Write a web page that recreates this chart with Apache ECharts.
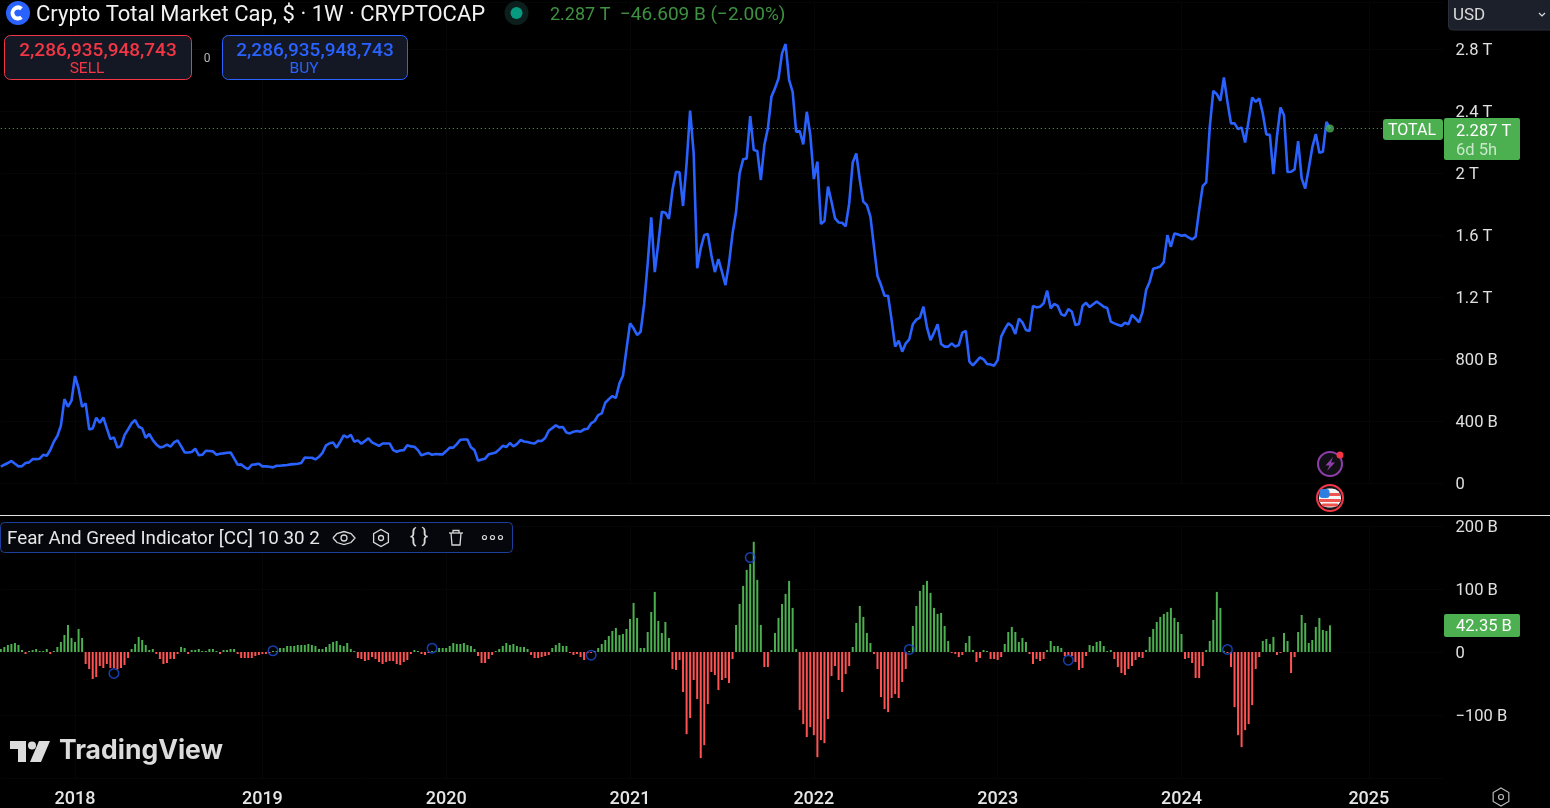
<!DOCTYPE html>
<html><head><meta charset="utf-8"><title>Crypto Total Market Cap</title>
<style>html,body{margin:0;padding:0;background:#000;overflow:hidden}#c{width:1550px;height:808px}</style>
<script src="https://cdn.jsdelivr.net/npm/echarts@6/dist/echarts.min.js"></script></head>
<body><div id="c"></div>
<script>
// Weekly total market cap, billions USD (first week 2017-08-07, last week 2024-10-21)
const totalCap = [
105,118,129,142,124,107,109,129,133,154,154,157,182,176,213,266,303,370,541,492,
531,690,610,492,514,346,352,421,389,423,352,283,294,228,238,309,346,385,406,363,
352,292,316,277,249,230,234,247,234,262,275,238,197,197,200,221,180,182,208,206,
204,182,189,191,195,197,159,118,120,101,90,118,120,124,107,107,105,101,111,111,
114,116,120,122,124,129,165,163,163,152,169,195,243,256,262,228,266,307,294,311,
266,275,253,271,288,262,251,240,255,255,255,212,202,210,212,243,236,234,212,178,
187,193,182,187,185,185,206,228,228,251,279,281,281,230,212,144,152,157,185,191,
197,217,240,232,258,236,251,277,268,264,258,255,273,271,290,337,354,372,359,361,
326,320,331,335,331,346,350,385,400,438,449,518,541,561,548,643,692,864,1030,998,
955,976,1155,1417,1714,1361,1546,1750,1744,1705,1890,2008,2004,1787,2062,2402,2127,1385,1514,1600,
1606,1471,1361,1445,1363,1277,1417,1610,1750,1998,2088,2094,2367,2148,2142,1955,2180,2288,2492,2546,
2610,2772,2832,2600,2524,2266,2271,2185,2395,2245,1961,2073,1671,1690,1912,1815,1707,1681,1679,1656,
1804,2068,2126,1955,1815,1793,1718,1525,1335,1277,1208,1208,1051,880,918,847,901,927,1024,1054,
1067,1137,1004,922,970,1024,897,880,880,901,880,890,970,981,783,759,785,811,798,768,
765,757,793,944,991,1030,1013,961,1060,1036,987,981,1142,1133,1137,1159,1241,1127,1155,1142,
1088,1079,1122,1105,1019,1026,1142,1163,1135,1153,1170,1155,1137,1129,1041,1030,1021,1013,1034,1024,
1084,1062,1036,1105,1245,1299,1383,1389,1397,1425,1599,1524,1610,1604,1595,1599,1584,1571,1589,1760,
1915,1939,2298,2530,2509,2466,2616,2459,2320,2320,2283,2294,2197,2341,2487,2459,2481,2384,2249,2246,
1993,2234,2423,2373,2006,2008,2023,2206,1965,1900,2029,2165,2251,2130,2137,2330,2287
];
// Fear And Greed Indicator, billions
const fearGreed = [
4.8,8,11.1,12.7,14.3,11.1,3.2,-3.2,1.6,3.2,
4.8,1.6,1.6,4.8,-3.2,1.6,8,15.9,27,42.9,
22.3,15.9,36.6,22.3,-19.1,-27,-42.9,-39.8,-22.3,-25.4,
-19.1,-25.4,-25.4,-27.6,-25.4,-20.7,-9.5,4.8,12.7,23.9,
19.1,11.1,3.2,4.8,-3.2,-11.1,-19.1,-17.5,-11.1,-11.1,
-3.2,8,6.4,-3.2,3.2,3.2,4.8,1.6,1.6,4.8,
4.8,1.6,-3.2,3.2,3.2,4.8,4.8,-3.2,-9.5,-9.5,
-9.5,-9.5,-6.4,-4.8,-3.2,-3.2,-1.6,1.6,1.6,6.4,
6.4,9.5,9.5,9.5,11.1,11.1,11.1,12.7,11.1,9.5,
4.8,4.8,8,12.7,15.9,17.5,11.1,9.5,14.3,4.8,
1.6,-9.5,-11.1,-14.3,-12.7,-8,-11.1,-15.9,-19.1,-15.9,
-14.3,-14.3,-19.1,-20.7,-15.9,-12.7,-3.2,3.2,1.6,-3.2,
-4.8,-1.6,1.6,1.6,6.4,6.4,6.4,9.5,14.3,12.7,
12.7,14.3,11.1,9.5,4.8,-6.4,-17.5,-17.5,-11.1,-4.8,
1.6,4.8,9.5,14.3,11.1,12.7,9.5,8,8,4.8,
-4.8,-9.5,-9.5,-8,-6.4,-4.8,6.4,11.1,14.3,9.5,
9.5,-1.6,-4.8,-3.2,-8,-12.7,-1.6,-1.6,1.6,6.4,
12.7,19.1,25.4,33.4,38.2,27,28.6,36.6,52.5,77.9,
54.1,6.4,6.4,31.8,63.6,95.4,49.3,30.2,47.7,22.3,
-27,-28.6,-12.7,-63.6,-130.4,-104.9,-44.5,-74.7,-168.5,-147.9,
-82.7,-31.8,-36.6,-60.4,-44.5,-41.3,-49.3,-11.1,42.9,76.3,
104.9,130.4,139.9,174.9,114.5,42.9,-23.9,-23.9,3.2,30.2,
54.1,76.3,92.2,112.9,70,4.8,-92.2,-114.5,-135,-119.3,
-132,-167,-139.9,-144.7,-106.5,-38.2,-22.3,-44.5,-63.6,-35,
-22.3,8,46.1,73.1,55.7,30.2,14.3,-3.2,-27,-71.6,
-90.6,-95.4,-73.1,-66.8,-73.1,-47.7,-27,1.6,41.3,73.1,
97,106.5,112.9,93.8,70,60.4,62,41.3,17.5,-1.6,
-3.2,-8,-4.8,14.3,25.4,3.2,-15.9,-9.5,3.2,1.6,
-11.1,-11.1,-12.7,-8,12.7,31.8,39.8,31.8,15.9,22.3,
15.9,-3.2,-19.1,-11.1,-14.3,-11.1,3.2,17.5,9.5,9.5,
6.4,-6.4,-4.8,-6.4,-15.9,-28.6,-25.4,-6.4,11.1,9.5,
15.9,17.5,9.5,1.6,3.2,-11.1,-23.9,-33.4,-36.6,-27,
-22.3,-12.7,-8,-9.5,3.2,23.9,36.6,47.7,55.7,60.4,
63.6,70,54.1,47.7,28.6,-11.1,-9.5,-17.5,-41.3,-41.3,
-22.3,3.2,17.5,50.9,95.4,70,1.6,-1.6,-23.9,-87.5,
-132,-151,-124,-114.5,-84.3,-27,-8,17.5,20.7,12.7,
23.9,-4.8,-1.6,30.2,17.5,-33.4,-8,31.8,58.8,46.1,
14.3,19.1,39.8,54.1,35,33.4,42.35
];
// hollow signal circles on the indicator pane: week index, value (billions)
const signalWeeks  = [32, 77, 122, 167, 212, 257, 302, 347];
const signalValues = [-34, 2, 6, -5, 150, 4, -13, 4];
const yearWeeks  = ['2018-01-01','2019-01-07','2020-01-06','2021-01-04','2022-01-03','2023-01-02','2024-01-01','2025-01-06'];
const yearLabels = ['2018','2019','2020','2021','2022','2023','2024','2025'];

const FIRST_WEEK = Date.UTC(2017,7,7), WEEK = 7*864e5, AXIS_WEEKS = 409;
const weeks = [];
for (let i=0;i<AXIS_WEEKS;i++) weeks.push(new Date(FIRST_WEEK+i*WEEK).toISOString().slice(0,10));
const lastIdx = totalCap.length-1;

const FONT='Roboto, sans-serif', GREEN='#4caf50', RED='#ff5252', BLUE='#2962ff', LABEL='#e0e0e0', GRID='#060606';
const isYear = (i,v)=>yearWeeks.includes(v);
const yTotal = v => '{v|'+(v===0?'0':(v>=1000?(v/1000)+' T':v+' B'))+'}';
const yInd = v => '{v|'+(v===0?'0':(v<0?'\u2212'+(-v)+' B':v+' B'))+'}';

const txt=(text,x,y,fill,font,align)=>({type:'text',z:20,silent:true,style:{text,x,y:y+1.5,fill,font,textAlign:align||'left',textVerticalAlign:'middle'}});
const rect=(x,y,width,height,fill,stroke,r,z)=>({type:'rect',z:z||19,silent:true,shape:{x,y,width,height,r:r||0},style:{fill:fill||'none',stroke:stroke||'none',lineWidth:1}});
const circ=(cx,cy,r,fill,stroke,lw)=>({type:'circle',z:20,silent:true,shape:{cx,cy,r},style:{fill:fill||'none',stroke:stroke||'none',lineWidth:lw||1}});
const poly=(points,fill,stroke,lw)=>({type:fill?'polygon':'polyline',z:21,silent:true,shape:{points},style:{fill:fill||'none',stroke:stroke||'none',lineWidth:lw||1}});
const hex=(cx,cy,r,stroke,lw)=>({type:'polygon',z:21,silent:true,shape:{points:[[cx,cy-r],[cx+r*.87,cy-r/2],[cx+r*.87,cy+r/2],[cx,cy+r],[cx-r*.87,cy+r/2],[cx-r*.87,cy-r/2]]},style:{fill:'none',stroke,lineWidth:lw}});

const ICON='#d8d8d8';
const graphics=[
 // header
 circ(18,13,12,BLUE),
 {type:'arc',z:21,silent:true,shape:{cx:18,cy:13,r:5.5,startAngle:0.9,endAngle:5.4,clockwise:true},style:{fill:'none',stroke:'#fff',lineWidth:4}},
 txt('Crypto Total Market Cap, $ · 1W · CRYPTOCAP',36,14,'#f2f2f2','22px '+FONT),
 circ(516.5,13,12,'#0c1f1c'), circ(516.5,13,6,'#089981'),
 txt('2.287 T',550,14,'#3f9142','18px '+FONT),
 txt('\u221246.609 B (\u22122.00%)',620,14,'#3f9142','19px '+FONT),
 rect(4.5,35.5,187,44,'#141824','#f23645',6),
 txt('2,286,935,948,743',98,49.5,'#f23645','500 19px '+FONT,'center'),
 txt('SELL',87,68,'#f23645','15.5px '+FONT,'center'),
 txt('0',207,57,'#b8b8b8','12px '+FONT,'center'),
 rect(222.5,35.5,185,44,'#141824',BLUE,6),
 txt('2,286,935,948,743',315,49.5,BLUE,'500 19px '+FONT,'center'),
 txt('BUY',304,68,BLUE,'15.5px '+FONT,'center'),
 // currency box
 rect(1448.5,-4,106,34,'#1c202b','#2a2e39',4),
 txt('USD',1453,14.5,'#dbdbdb','17px '+FONT),
 poly([[1539,13],[1542,16],[1545,13]],null,'#dbdbdb',1.2),
 // price tags
 rect(1383,119,60,21,GREEN,null,3),
 txt('TOTAL',1412,129.5,'#ffffff','16px '+FONT,'center'),
 rect(1444,118,76,42,GREEN,null,2),
 txt('2.287 T',1456,130,'#ffffff','16.5px '+FONT),
 txt('6d 5h',1456,149.5,'#c9e8cb','16.5px '+FONT),
 rect(1444,614,76,23,GREEN,null,2),
 txt('42.35 B',1456,625.5,'#ffffff','16.5px '+FONT),
 // pane separator
 rect(0,515,1550,1,'#e3e3e3'),
 // indicator legend
 rect(0.5,522.5,512,30,'#05070c','#1d3f9c',4),
 txt('Fear And Greed Indicator [CC] 10 30 2',7,538,'#e6e6e6','18.8px '+FONT),
 poly([[333,538],[337,533.5],[344,531.5],[351,533.5],[355,538],[351,542.5],[344,544.5],[337,542.5],[333,538]],null,ICON,1.3),
 circ(344,538,3,null,ICON,1.3),
 hex(381,538,8.5,ICON,1.3), circ(381,538,2.5,null,ICON,1.3),
 txt('{ }',419,536.5,ICON,'20px '+FONT,'center'),
 poly([[449,533],[463,533]],null,ICON,1.3),
 poly([[453,533],[453,530.5],[459,530.5],[459,533]],null,ICON,1.3),
 poly([[451,533],[452,545],[460,545],[461,533]],null,ICON,1.3),
 circ(484.5,537.5,2,null,ICON,1.2), circ(492.5,537.5,2,null,ICON,1.2), circ(500.5,537.5,2,null,ICON,1.2),
 // alert icons
 circ(1330,464,12,'#101014','#8e3ea8',2),
 poly([[1333,457],[1325.5,465.5],[1329.5,465.5],[1327,471],[1335,462.5],[1331,462.5]],'#8e3ea8'),
 circ(1340,455,3.5,'#f23645'),
 circ(1330,498,13,'#15151a','#f23645',2),
 rect(1319,488.5,22,19,'#f5f5f5',null,9,22),
 rect(1320,493,20,3,'#ef5350',null,0,23), rect(1319.5,499,21,3,'#ef5350',null,0,23), rect(1322,503.5,16,3,'#ef5350',null,1,23),
 rect(1319.5,489,10,9,'#2f7fe0',null,3,24),
 // watermark
 poly([[10,741],[26,741],[26,762],[18,762],[18,749],[10,749]],'#dcdcdc'),
 poly([[39,741],[50,741],[41,762],[30,762]],'#dcdcdc'),
 circ(32,745.5,4,'#dcdcdc'),
 txt('TradingView',59,749.5,'#dcdcdc','700 26.5px Inter, '+FONT),
 // settings
 hex(1501,797,9,'#b8b8b8',1.2), circ(1501,797,2.5,null,'#b8b8b8',1.2)
];

const chart=echarts.init(document.getElementById('c'),null,{renderer:'canvas'});
const gridLeft=0.8, gridW=3.535*(AXIS_WEEKS-1), gridRight=1550-gridLeft-gridW;
const xBase={type:'category',data:weeks,boundaryGap:false,axisLine:{show:false},axisTick:{show:false},
  splitLine:{show:true,interval:isYear,lineStyle:{color:GRID,width:1}}};
const yBase={type:'value',position:'right',axisLine:{show:false},axisTick:{show:false},
  splitLine:{lineStyle:{color:GRID,width:1}}};
const yLabel={margin:12.5,align:'left',rich:{v:{color:LABEL,fontSize:16.5,fontFamily:FONT,padding:[4,0,0,0]}}};
chart.setOption({
 backgroundColor:'#000',animation:false,
 textStyle:{fontFamily:FONT},
 grid:[{left:gridLeft,right:gridRight,top:2.5,height:480.5},{left:gridLeft,right:gridRight,top:526,height:252}],
 xAxis:[
  Object.assign({},xBase,{gridIndex:0,axisLabel:{show:false}}),
  Object.assign({},xBase,{gridIndex:1,axisLabel:{show:true,interval:isYear,color:'#e6e6e6',fontSize:18,fontWeight:500,fontFamily:'Roboto, sans-serif',margin:12,
    formatter:v=>yearLabels[yearWeeks.indexOf(v)]}})
 ],
 yAxis:[
  Object.assign({},yBase,{gridIndex:0,min:0,max:3100,interval:400,axisLabel:Object.assign({},yLabel,{showMaxLabel:false,formatter:yTotal})}),
  Object.assign({},yBase,{gridIndex:1,min:-200,max:200,interval:100,axisLabel:Object.assign({},yLabel,{showMinLabel:false,formatter:yInd})})
 ],
 series:[
  {name:'TOTAL',type:'line',xAxisIndex:0,yAxisIndex:0,data:totalCap,symbol:'none',sampling:'none',z:3,
   lineStyle:{color:BLUE,width:2.6},
   markLine:{silent:true,symbol:'none',label:{show:false},lineStyle:{color:GREEN,type:[1,3],width:1},data:[{yAxis:totalCap[lastIdx]}]}},
  {name:'Last',type:'scatter',xAxisIndex:0,yAxisIndex:0,symbolSize:8,itemStyle:{color:GREEN},z:4,
   data:[[lastIdx,totalCap[lastIdx]]]},
  {name:'Fear And Greed Indicator',type:'bar',xAxisIndex:1,yAxisIndex:1,barWidth:2,data:fearGreed,z:3,
   itemStyle:{color:p=>p.value>=0?GREEN:RED}},
  {name:'Signal',type:'scatter',xAxisIndex:1,yAxisIndex:1,symbol:'circle',symbolSize:9.5,z:4,
   itemStyle:{color:'rgba(0,0,0,0)',borderColor:'#1c4fd8',borderWidth:1.5},
   data:signalWeeks.map((w,i)=>[w,signalValues[i]])}
 ],
 graphic:graphics
});
</script></body></html>
